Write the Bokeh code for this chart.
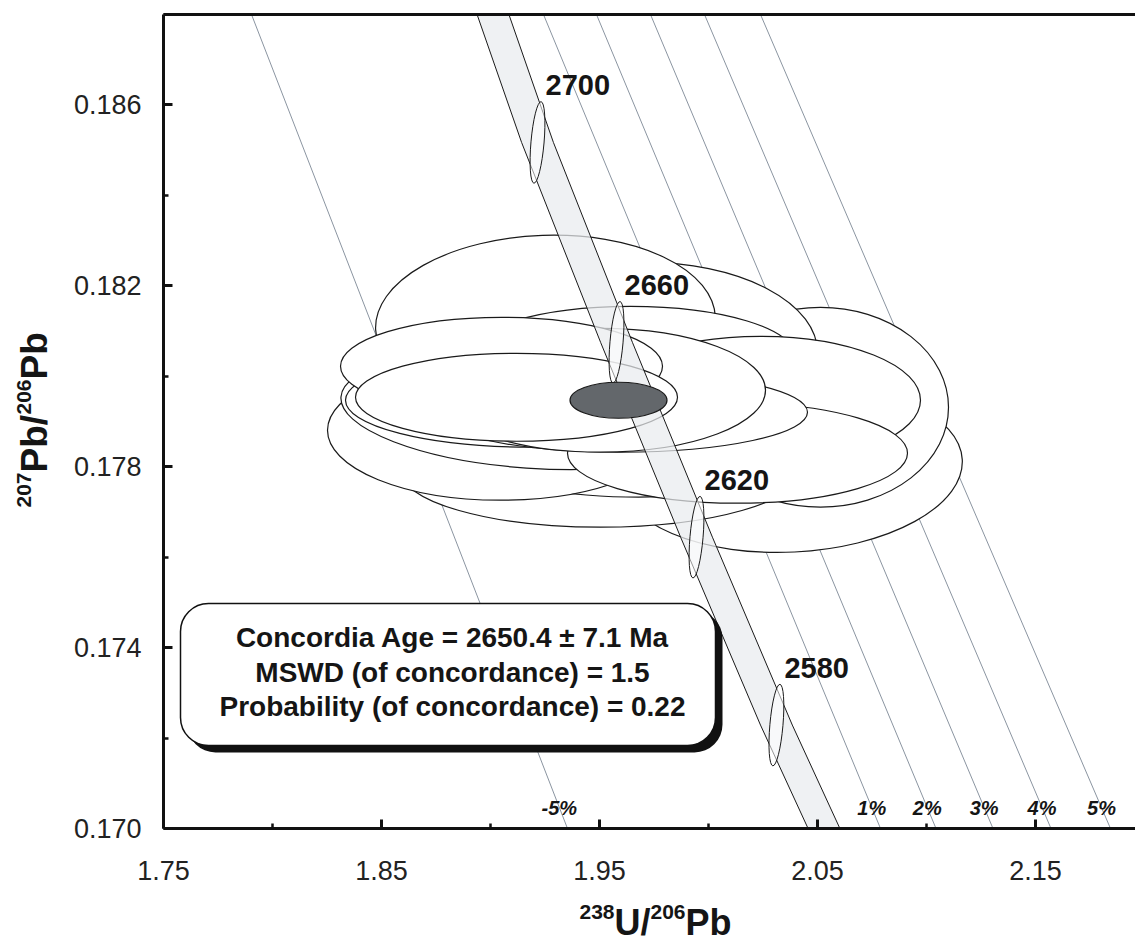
import numpy as np
from bokeh.plotting import figure
from bokeh.models import (ColumnDataSource, Label, BoxAnnotation, FixedTicker, LinearAxis,
                          PrintfTickFormatter)
from bokeh.core.properties import value
from bokeh.embed import file_html
from bokeh.resources import INLINE

W, H = 1135, 944

# ---------------- data box ----------------
X0 = 1.75
Y0, Y1 = 0.170, 0.188
BOX_L, BOX_T, BOX_W, BOX_H = 163, 14, 972, 814      # where the data box sits on the page
SX = 2180.0                                         # px per unit of 238U/206Pb
SY = BOX_H / (Y1 - Y0)                              # px per unit of 207Pb/206Pb
X1 = X0 + BOX_W / SX

x_ticks = [1.75, 1.85, 1.95, 2.05, 2.15]
x_minor = [1.80, 1.90, 2.00, 2.10, 2.20]
y_ticks = [0.170, 0.174, 0.178, 0.182, 0.186]
y_minor = [0.172, 0.176, 0.180, 0.184, 0.188]

# ---------------- concordia ----------------
conc_x = [1.90115, 1.92156, 1.95780, 1.99450, 2.03115, 2.05298]
conc_y = [0.18800, 0.185171, 0.180751, 0.176442, 0.172287, 0.17000]
conc_halfwidth = 0.0073

age_labels = ["2700", "2660", "2620", "2580"]
age_x = [1.92156, 1.95780, 1.99450, 2.03115]
age_y = [0.185171, 0.180751, 0.176442, 0.172287]
age_w = 0.0060
age_h = 0.00181
age_angle = -0.087

# ---------------- discordance lines ----------------
disc_labels = ["-5%", "1%", "2%", "3%", "4%", "5%"]
disc_x_top = [1.79037, 1.92431, 1.94862, 1.97339, 1.99817, 2.02385]
disc_x_bot = [1.93532, 2.07890, 2.10436, 2.13050, 2.15711, 2.18440]

# ---------------- analyses (2-sigma error ellipses), in plotting order ----------------
ell_x = [2.03761, 2.05138, 1.97110, 1.95046, 1.94587, 1.90459, 1.91835, 1.91835,
         1.92523, 1.96422, 2.02385, 2.01330, 1.95963, 1.95046, 1.90505, 1.91193]
ell_y = [0.177967, 0.179315, 0.180530, 0.177923, 0.178586, 0.178807, 0.179249, 0.179470,
         0.181171, 0.180442, 0.179470, 0.178298, 0.179204, 0.179691, 0.180221, 0.179536]
ell_w = [0.157798, 0.117431, 0.157798, 0.183486, 0.174312, 0.158716, 0.174312, 0.169725,
         0.155963, 0.151376, 0.146789, 0.155963, 0.171560, 0.151376, 0.147706, 0.147706]
ell_h = [0.0037127, 0.0044199, 0.0039779, 0.0025193, 0.0024309, 0.0030939, 0.0025635, 0.0020773,
         0.0038895, 0.0022099, 0.0028287, 0.0022099, 0.0017680, 0.0027403, 0.0021657, 0.0019448]
ell_angle = [0.05, 0.0, 0.0, 0.0, -0.08, 0.0, -0.07, 0.0,
             0.035, 0.0, 0.0, 0.0, 0.0, 0.0, 0.0, 0.0]

# concordia age (weighted mean) ellipse
mean_x, mean_y, mean_w, mean_h = 1.95872, 0.179470, 0.044495, 0.00079558

stats_lines = ["Concordia Age = 2650.4 \u00b1 7.1 Ma",
               "MSWD (of concordance) = 1.5",
               "Probability (of concordance) = 0.22"]

FONT = "Liberation Sans"
INK = "#151515"


def px_x(px):
    return X0 + (px - BOX_L) / SX


def px_y(py):
    return Y1 - (py - BOX_T) / SY


# the plotting frame covers the whole page; axes are pinned to the data box edges
p = figure(width=W, height=H, x_range=(px_x(0), px_x(W)), y_range=(px_y(H), px_y(0)),
           output_backend="svg", toolbar_location=None,
           x_axis_location=None, y_axis_location=None, min_border=0)
p.outline_line_color = None
p.xgrid.visible = False
p.ygrid.visible = False
p.background_fill_color = "white"
p.border_fill_color = "white"

xaxis = LinearAxis(fixed_location=Y0, bounds=(X0, X1),
                   ticker=FixedTicker(ticks=x_ticks, minor_ticks=x_minor),
                   formatter=PrintfTickFormatter(format="%.2f"), major_label_standoff=32)
yaxis = LinearAxis(fixed_location=X0, bounds=(Y0, Y1),
                   ticker=FixedTicker(ticks=y_ticks, minor_ticks=y_minor),
                   formatter=PrintfTickFormatter(format="%.3f"), major_label_standoff=22)
for ax in (xaxis, yaxis):
    ax.axis_line_width = 3
    ax.axis_line_color = "#111111"
    ax.major_tick_in = 9
    ax.major_tick_out = 0
    ax.minor_tick_in = 5
    ax.minor_tick_out = 0
    ax.major_tick_line_width = 3
    ax.minor_tick_line_width = 2.5
    ax.major_tick_line_color = "#111111"
    ax.minor_tick_line_color = "#111111"
    ax.major_label_text_font = FONT
    ax.major_label_text_font_size = "27px"
    ax.major_label_text_color = "#222222"
p.add_layout(xaxis, "below")
p.add_layout(yaxis, "left")

top = LinearAxis(fixed_location=Y1, bounds=(X0, X1), ticker=FixedTicker(ticks=[]),
                 axis_line_width=3, axis_line_color="#111111",
                 major_tick_line_color=None, minor_tick_line_color=None,
                 major_label_text_font_size="0px")
p.add_layout(top, "above")

# discordance reference lines
p.segment(x0=disc_x_top, y0=[Y1] * len(disc_x_top), x1=disc_x_bot, y1=[Y0] * len(disc_x_bot),
          line_color="#8b95a1", line_width=1)

# analyses: each ellipse filled white then stroked, in order
esrc = ColumnDataSource(dict(x=ell_x, y=ell_y, w=ell_w, h=ell_h, a=ell_angle))
p.ellipse(x="x", y="y", width="w", height="h", angle="a", source=esrc,
          fill_color="white", line_color="#1a1a1a", line_width=1.2)

# concordia band
cx = np.array(conc_x)
cy = np.array(conc_y)
band_x = np.concatenate([cx - conc_halfwidth, (cx + conc_halfwidth)[::-1]])
band_y = np.concatenate([cy, cy[::-1]])
p.patch(band_x, band_y, fill_color="#e9ecef", fill_alpha=0.72, line_color=None)
p.line(cx - conc_halfwidth, cy, line_color="#1a1a1a", line_width=1)
p.line(cx + conc_halfwidth, cy, line_color="#1a1a1a", line_width=1)

# age markers on concordia
p.ellipse(x=age_x, y=age_y, width=age_w, height=age_h, angle=age_angle,
          fill_color="white", fill_alpha=0.55, line_color="#1a1a1a", line_width=1)

# concordia age ellipse
p.ellipse(x=[mean_x], y=[mean_y], width=mean_w, height=mean_h,
          fill_color="#63676b", line_color="#1a1a1a", line_width=1.2)

# age labels
p.text(x=age_x, y=age_y, text=age_labels, x_offset=8, y_offset=-47,
       text_font=value(FONT), text_font_style="bold", text_font_size="29px",
       text_color=INK, text_align="left", text_baseline="bottom")

# discordance labels
lab_y = px_y(807)
frac = (lab_y - Y0) / (Y1 - Y0)
lab_x = [b + (t - b) * frac for t, b in zip(disc_x_top, disc_x_bot)]
p.text(x=lab_x, y=[lab_y] * len(lab_x), text=disc_labels,
       text_font=value(FONT), text_font_style="bold italic", text_font_size="20px",
       text_color=INK, text_align="center", text_baseline="middle")

# statistics box with drop shadow
shadow = BoxAnnotation(left=px_x(187), right=px_x(722), top=px_y(610), bottom=px_y(752),
                       fill_color="#111111", fill_alpha=1.0, line_color=None, border_radius=28)
box = BoxAnnotation(left=px_x(180), right=px_x(715), top=px_y(603), bottom=px_y(745),
                    fill_color="white", fill_alpha=1.0, line_color="#111111", line_alpha=1.0,
                    line_width=1.5, border_radius=28)
p.add_layout(shadow)
p.add_layout(box)
for line, py in zip(stats_lines, (637, 672, 706)):
    p.add_layout(Label(x=px_x(452), y=px_y(py), text=line, text_font=FONT,
                       text_font_style="bold", text_font_size="28px", text_color=INK,
                       text_align="center", text_baseline="middle"))


def title_piece(text, px, py, size, angle=0.0):
    # (px, py) is the start of the piece, centred across the text line
    p.add_layout(Label(x=px_x(px), y=px_y(py), text=text, text_font=FONT,
                       text_font_style="bold", text_font_size=size, text_color=INK,
                       text_align="left", text_baseline="middle", angle=angle))


# x title: 238U/206Pb
title_piece("238", 579, 911, "21px")
title_piece("U/", 614, 922, "36px")
title_piece("206", 650, 911, "21px")
title_piece("Pb", 685, 922, "36px")

# y title: 207Pb/206Pb, reading upwards
title_piece("207", 23, 507, "21px", np.pi / 2)
title_piece("Pb/", 34, 472, "37px", np.pi / 2)
title_piece("206", 23, 414, "21px", np.pi / 2)
title_piece("Pb", 34, 379, "37px", np.pi / 2)

open("out.html", "w").write(file_html(p, INLINE))
